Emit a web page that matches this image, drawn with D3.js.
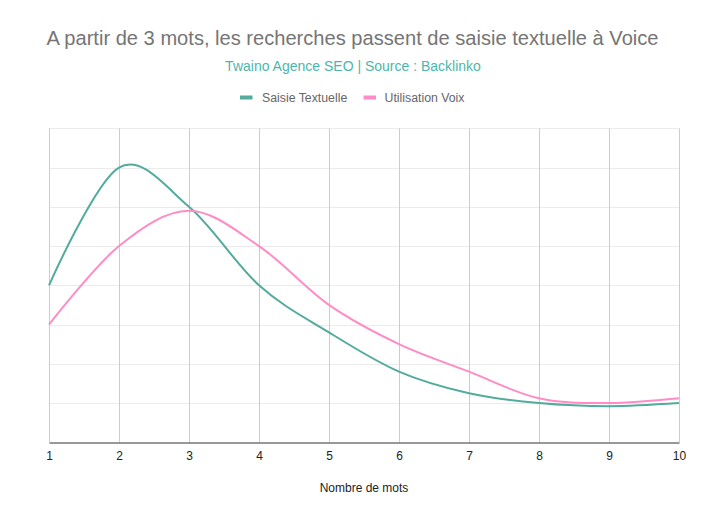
<!DOCTYPE html>
<html><head><meta charset="utf-8">
<script src="https://cdn.jsdelivr.net/npm/d3@7"></script>
<style>body{margin:0;background:#fff}svg{display:block;font-family:"Liberation Sans",Arial,sans-serif}</style>
</head><body><svg id="c" width="705" height="520"></svg>
<script>
const words = [1,2,3,4,5,6,7,8,9,10];
const saisie = [4.0,7.0,6.0,4.0,2.8,1.8,1.25,1.0,0.92,1.0];
const voix = [3.0,5.0,5.9,5.0,3.5,2.5,1.8,1.12,1.0,1.12];
const seriesNames = ["Saisie Textuelle","Utilisation Voix"];
const colors = ["#52ab9d","#ff8cc6"];
const yTicks = [0,1,2,3,4,5,6,7,8];

const svg = d3.select("#c");
const m = {l:49,r:26,t:128.3,b:77.7};
const W = 705, H = 520;
const x = d3.scaleLinear().domain([1,10]).range([m.l, W-m.r]);
const y = d3.scaleLinear().domain([0,8]).range([H-m.b, m.t]);

// horizontal gridlines
svg.append("g").selectAll("line").data(yTicks.slice(1)).join("line")
  .attr("x1",m.l).attr("x2",W-m.r).attr("y1",d=>Math.round(y(d))+0.5).attr("y2",d=>Math.round(y(d))+0.5)
  .attr("stroke","#ebebeb").attr("stroke-width",1);
// vertical gridlines
svg.append("g").selectAll("line").data(words).join("line")
  .attr("x1",d=>Math.round(x(d))+0.5).attr("x2",d=>Math.round(x(d))+0.5).attr("y1",m.t).attr("y2",H-m.b)
  .attr("stroke","#cccccc").attr("stroke-width",1);

// x axis
const xa = svg.append("g").attr("transform",`translate(0,${Math.round(y(0))+0.5})`)
  .call(d3.axisBottom(x).tickValues(words).tickSize(0).tickPadding(9).tickFormat(d3.format("d")));
xa.select(".domain").attr("stroke","#333").attr("stroke-width",1);
xa.selectAll("text").attr("font-size",12).attr("fill","#222").attr("font-family","Liberation Sans, Arial, sans-serif");

const line = d3.line().x((d,i)=>x(words[i])).y(d=>y(d)).curve(d3.curveCatmullRom.alpha(0));
[saisie, voix].forEach((s,k)=>{
  svg.append("path").attr("d",line(s)).attr("fill","none").attr("stroke",colors[k]).attr("stroke-width",2);
});

// titles
svg.append("text").attr("x",352.5).attr("y",45).attr("text-anchor","middle").attr("font-size",20.1)
  .attr("fill","#757575").text("A partir de 3 mots, les recherches passent de saisie textuelle à Voice");
svg.append("text").attr("x",353).attr("y",71).attr("text-anchor","middle").attr("font-size",14)
  .attr("fill","#4db6ac").text("Twaino Agence SEO | Source : Backlinko");

// legend
const leg = [{x:240,tx:262},{x:363.5,tx:384.5}];
seriesNames.forEach((n,k)=>{
  svg.append("rect").attr("x",leg[k].x).attr("y",95.5).attr("width",12.5).attr("height",4).attr("fill",colors[k]);
  svg.append("text").attr("x",leg[k].tx).attr("y",102).attr("font-size",12.3).attr("fill","#666").text(n);
});

svg.append("text").attr("x",364).attr("y",492).attr("text-anchor","middle").attr("font-size",12)
  .attr("fill","#222").text("Nombre de mots");
</script></body></html>
